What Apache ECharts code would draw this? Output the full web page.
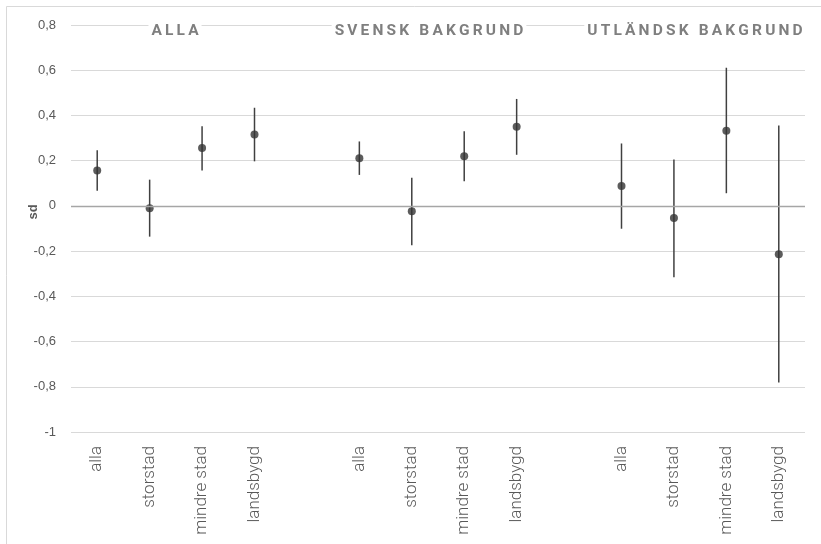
<!DOCTYPE html>
<html>
<head>
<meta charset="utf-8">
<script src="https://cdn.jsdelivr.net/npm/echarts@6/dist/echarts.min.js"></script>
<style>html,body{margin:0;padding:0;background:#fff}#c{width:821px;height:544px}</style>
</head>
<body>
<div id="c"></div>
<script>
// Categories (empty strings are the gaps between groups)
const categories = ['alla','storstad','mindre stad','landsbygd','',
                    'alla','storstad','mindre stad','landsbygd','',
                    'alla','storstad','mindre stad','landsbygd'];
// Point estimates (sd)
const estimates = [0.156, -0.010, 0.256, 0.316, null,
                   0.211, -0.024, 0.220, 0.350, null,
                   0.088, -0.054, 0.332, -0.214];
// Lower bounds of intervals
const lower = [0.067, -0.136, 0.157, 0.197, null,
               0.137, -0.174, 0.109, 0.226, null,
               -0.101, -0.316, 0.056, -0.781];
// Upper bounds of intervals
const upper = [0.246, 0.116, 0.352, 0.434, null,
               0.285, 0.125, 0.330, 0.473, null,
               0.276, 0.205, 0.611, 0.355];
// Group headings
const groupTitles = ['ALLA', 'SVENSK BAKGRUND', 'UTLÄNDSK BAKGRUND'];
const yTicks = {min: -1, max: 0.8, interval: 0.2};

const spaced = s => s.split('').join('\u2009');

const errData = [];
categories.forEach((c, i) => {
  if (lower[i] != null && upper[i] != null) errData.push([i, lower[i], upper[i]]);
});

const titleStyle = {fill: '#7f7f7f', font: 'bold 15.5px Roboto', textAlign: 'center', textVerticalAlign: 'middle', backgroundColor: '#fff', padding: [2, 3]};

const chart = echarts.init(document.getElementById('c'), null, {renderer: 'canvas'});
chart.setOption({
  animation: false,
  backgroundColor: '#fff',
  grid: {left: 71, right: 16, top: 25, bottom: 112},
  xAxis: {
    type: 'category',
    data: categories,
    axisLine: {show: false},
    axisTick: {show: false},
    axisLabel: {interval: 0, rotate: 90, margin: 14, color: '#595959', fontSize: 17, fontWeight: 300, fontFamily: 'Roboto'},
    splitLine: {show: false}
  },
  yAxis: {
    type: 'value',
    min: yTicks.min, max: yTicks.max, interval: yTicks.interval,
    axisLine: {show: false},
    axisTick: {show: false},
    axisLabel: {
      margin: 15, color: '#595959', fontSize: 13, fontFamily: 'Liberation Sans',
      formatter: v => (Math.round(v * 10) / 10).toString().replace('.', ',')
    },
    splitLine: {lineStyle: {color: '#d9d9d9', width: 1}}
  },
  graphic: [
    {type: 'rect', left: 4, top: 4, shape: {width: 830, height: 539},
     style: {fill: 'none', stroke: '#d9d9d9', lineWidth: 1}, silent: true, z: -1},
    {type: 'text', x: 33, y: 212, rotation: Math.PI / 2,
     style: {text: 'sd', fill: '#595959', font: 'bold 13px "Liberation Sans"', textAlign: 'center', textVerticalAlign: 'middle'}},
    {type: 'text', x: 175, y: 31, z: 10, style: Object.assign({text: spaced(groupTitles[0])}, titleStyle)},
    {type: 'text', x: 429, y: 31, z: 10, style: Object.assign({text: spaced(groupTitles[1])}, titleStyle)},
    {type: 'text', x: 695, y: 31, z: 10, style: Object.assign({text: spaced(groupTitles[2])}, titleStyle)}
  ],
  series: [
    {
      type: 'custom',
      data: errData,
      renderItem: (params, api) => {
        const p1 = api.coord([api.value(0), api.value(1)]);
        const p2 = api.coord([api.value(0), api.value(2)]);
        return {type: 'line', shape: {x1: p1[0], y1: p1[1], x2: p2[0], y2: p2[1]},
                style: {stroke: '#404040', lineWidth: 1.5}};
      },
      z: 3,
      markLine: {
        silent: true, symbol: 'none', label: {show: false},
        lineStyle: {color: '#a6a6a6', width: 1.3, type: 'solid'},
        data: [{yAxis: 0}]
      }
    },
    {
      type: 'scatter',
      data: estimates,
      symbol: 'circle',
      symbolSize: 8,
      itemStyle: {color: '#333333'},
      z: 4
    }
  ]
});
</script>
</body>
</html>
